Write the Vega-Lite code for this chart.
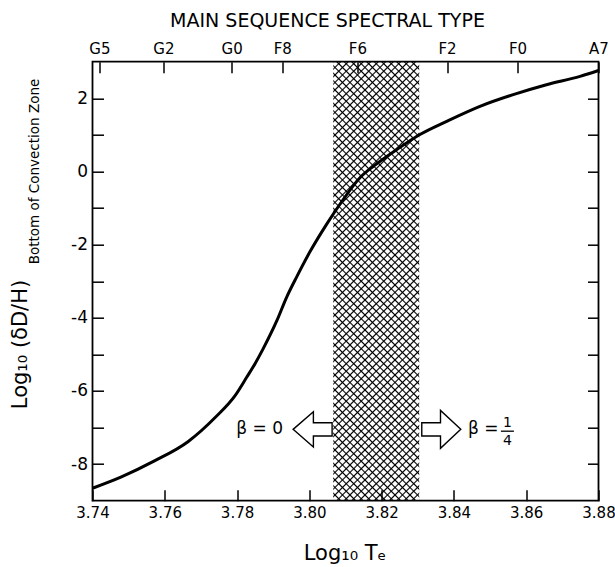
{
"$schema":"https://vega.github.io/schema/vega-lite/v6.json",
"width":506,"height":439,
"autosize":{"type":"none"},
"padding":{"left":92.5,"top":61.7,"right":16.5,"bottom":66.3},
"config":{"font":"DejaVu Sans","view":{"stroke":"black","strokeWidth":1.8},
"axis":{"grid":false,"domain":false,"tickColor":"black","labelColor":"black","titleColor":"black","tickWidth":1.5,"titleFontWeight":"normal","zindex":1,"labelFlush":false,"labelOverlap":false}},
"datasets":{
"curve":[{"t":3.74,"d":-8.66},{"t":3.748,"d":-8.35},{"t":3.757,"d":-7.92},{"t":3.7665,"d":-7.38},{"t":3.774,"d":-6.72},{"t":3.7795,"d":-6.12},{"t":3.7827,"d":-5.62},{"t":3.785,"d":-5.25},{"t":3.7872,"d":-4.85},{"t":3.791,"d":-4.08},{"t":3.7937,"d":-3.44},{"t":3.7965,"d":-2.88},{"t":3.8002,"d":-2.19},{"t":3.8048,"d":-1.44},{"t":3.8085,"d":-0.89},{"t":3.814,"d":-0.17},{"t":3.8177,"d":0.14},{"t":3.8242,"d":0.6},{"t":3.8306,"d":1.01},{"t":3.838,"d":1.37},{"t":3.8472,"d":1.78},{"t":3.8564,"d":2.1},{"t":3.8656,"d":2.37},{"t":3.8749,"d":2.6},{"t":3.88,"d":2.76}],
"band":[{"lo":3.8066,"hi":3.8304,"top":3,"bottom":-9}],
"arrows":[{"t":3.8009,"d":-7.05,"dir":"left"},{"t":3.8365,"d":-7.05,"dir":"right"}],
"beta0":[{"t":3.7927,"d":-7.05,"label":"β = 0"}],
"beta1":[{"t":3.8439,"d":-7.05,"label":"β ="}],
"frac":[{"t":3.8548,"d":-6.88,"label":"1"},{"t":3.8548,"d":-7.36,"label":"4"}],
"bar":[{"t":3.853,"t2":3.8566,"d":-7.1}]
},
"resolve":{"axis":{"x":"independent","y":"independent"}},
"layer":[
{"data":{"name":"band"},
"mark":{"type":"rect","fill":{"gradient":"linear","x1":0,"y1":0,"x2":0.2256,"y2":1.1517,"stops":[
{"offset":0,"color":"#000"},{"offset":0.003,"color":"transparent"},
{"offset":0.0113,"color":"transparent"},{"offset":0.0143,"color":"#000"},{"offset":0.0173,"color":"transparent"},
{"offset":0.0256,"color":"transparent"},{"offset":0.0286,"color":"#000"},{"offset":0.0316,"color":"transparent"},
{"offset":0.0399,"color":"transparent"},{"offset":0.0429,"color":"#000"},{"offset":0.0459,"color":"transparent"},
{"offset":0.0541,"color":"transparent"},{"offset":0.0571,"color":"#000"},{"offset":0.0601,"color":"transparent"},
{"offset":0.0684,"color":"transparent"},{"offset":0.0714,"color":"#000"},{"offset":0.0744,"color":"transparent"},
{"offset":0.0827,"color":"transparent"},{"offset":0.0857,"color":"#000"},{"offset":0.0887,"color":"transparent"},
{"offset":0.097,"color":"transparent"},{"offset":0.1,"color":"#000"},{"offset":0.103,"color":"transparent"},
{"offset":0.1113,"color":"transparent"},{"offset":0.1143,"color":"#000"},{"offset":0.1173,"color":"transparent"},
{"offset":0.1256,"color":"transparent"},{"offset":0.1286,"color":"#000"},{"offset":0.1316,"color":"transparent"},
{"offset":0.1399,"color":"transparent"},{"offset":0.1429,"color":"#000"},{"offset":0.1459,"color":"transparent"},
{"offset":0.1541,"color":"transparent"},{"offset":0.1571,"color":"#000"},{"offset":0.1601,"color":"transparent"},
{"offset":0.1684,"color":"transparent"},{"offset":0.1714,"color":"#000"},{"offset":0.1744,"color":"transparent"},
{"offset":0.1827,"color":"transparent"},{"offset":0.1857,"color":"#000"},{"offset":0.1887,"color":"transparent"},
{"offset":0.197,"color":"transparent"},{"offset":0.2,"color":"#000"},{"offset":0.203,"color":"transparent"},
{"offset":0.2113,"color":"transparent"},{"offset":0.2143,"color":"#000"},{"offset":0.2173,"color":"transparent"},
{"offset":0.2256,"color":"transparent"},{"offset":0.2286,"color":"#000"},{"offset":0.2316,"color":"transparent"},
{"offset":0.2399,"color":"transparent"},{"offset":0.2429,"color":"#000"},{"offset":0.2459,"color":"transparent"},
{"offset":0.2541,"color":"transparent"},{"offset":0.2571,"color":"#000"},{"offset":0.2601,"color":"transparent"},
{"offset":0.2684,"color":"transparent"},{"offset":0.2714,"color":"#000"},{"offset":0.2744,"color":"transparent"},
{"offset":0.2827,"color":"transparent"},{"offset":0.2857,"color":"#000"},{"offset":0.2887,"color":"transparent"},
{"offset":0.297,"color":"transparent"},{"offset":0.3,"color":"#000"},{"offset":0.303,"color":"transparent"},
{"offset":0.3113,"color":"transparent"},{"offset":0.3143,"color":"#000"},{"offset":0.3173,"color":"transparent"},
{"offset":0.3256,"color":"transparent"},{"offset":0.3286,"color":"#000"},{"offset":0.3316,"color":"transparent"},
{"offset":0.3399,"color":"transparent"},{"offset":0.3429,"color":"#000"},{"offset":0.3459,"color":"transparent"},
{"offset":0.3541,"color":"transparent"},{"offset":0.3571,"color":"#000"},{"offset":0.3601,"color":"transparent"},
{"offset":0.3684,"color":"transparent"},{"offset":0.3714,"color":"#000"},{"offset":0.3744,"color":"transparent"},
{"offset":0.3827,"color":"transparent"},{"offset":0.3857,"color":"#000"},{"offset":0.3887,"color":"transparent"},
{"offset":0.397,"color":"transparent"},{"offset":0.4,"color":"#000"},{"offset":0.403,"color":"transparent"},
{"offset":0.4113,"color":"transparent"},{"offset":0.4143,"color":"#000"},{"offset":0.4173,"color":"transparent"},
{"offset":0.4256,"color":"transparent"},{"offset":0.4286,"color":"#000"},{"offset":0.4316,"color":"transparent"},
{"offset":0.4399,"color":"transparent"},{"offset":0.4429,"color":"#000"},{"offset":0.4459,"color":"transparent"},
{"offset":0.4541,"color":"transparent"},{"offset":0.4571,"color":"#000"},{"offset":0.4601,"color":"transparent"},
{"offset":0.4684,"color":"transparent"},{"offset":0.4714,"color":"#000"},{"offset":0.4744,"color":"transparent"},
{"offset":0.4827,"color":"transparent"},{"offset":0.4857,"color":"#000"},{"offset":0.4887,"color":"transparent"},
{"offset":0.497,"color":"transparent"},{"offset":0.5,"color":"#000"},{"offset":0.503,"color":"transparent"},
{"offset":0.5113,"color":"transparent"},{"offset":0.5143,"color":"#000"},{"offset":0.5173,"color":"transparent"},
{"offset":0.5256,"color":"transparent"},{"offset":0.5286,"color":"#000"},{"offset":0.5316,"color":"transparent"},
{"offset":0.5399,"color":"transparent"},{"offset":0.5429,"color":"#000"},{"offset":0.5459,"color":"transparent"},
{"offset":0.5541,"color":"transparent"},{"offset":0.5571,"color":"#000"},{"offset":0.5601,"color":"transparent"},
{"offset":0.5684,"color":"transparent"},{"offset":0.5714,"color":"#000"},{"offset":0.5744,"color":"transparent"},
{"offset":0.5827,"color":"transparent"},{"offset":0.5857,"color":"#000"},{"offset":0.5887,"color":"transparent"},
{"offset":0.597,"color":"transparent"},{"offset":0.6,"color":"#000"},{"offset":0.603,"color":"transparent"},
{"offset":0.6113,"color":"transparent"},{"offset":0.6143,"color":"#000"},{"offset":0.6173,"color":"transparent"},
{"offset":0.6256,"color":"transparent"},{"offset":0.6286,"color":"#000"},{"offset":0.6316,"color":"transparent"},
{"offset":0.6399,"color":"transparent"},{"offset":0.6429,"color":"#000"},{"offset":0.6459,"color":"transparent"},
{"offset":0.6541,"color":"transparent"},{"offset":0.6571,"color":"#000"},{"offset":0.6601,"color":"transparent"},
{"offset":0.6684,"color":"transparent"},{"offset":0.6714,"color":"#000"},{"offset":0.6744,"color":"transparent"},
{"offset":0.6827,"color":"transparent"},{"offset":0.6857,"color":"#000"},{"offset":0.6887,"color":"transparent"},
{"offset":0.697,"color":"transparent"},{"offset":0.7,"color":"#000"},{"offset":0.703,"color":"transparent"},
{"offset":0.7113,"color":"transparent"},{"offset":0.7143,"color":"#000"},{"offset":0.7173,"color":"transparent"},
{"offset":0.7256,"color":"transparent"},{"offset":0.7286,"color":"#000"},{"offset":0.7316,"color":"transparent"},
{"offset":0.7399,"color":"transparent"},{"offset":0.7429,"color":"#000"},{"offset":0.7459,"color":"transparent"},
{"offset":0.7541,"color":"transparent"},{"offset":0.7571,"color":"#000"},{"offset":0.7601,"color":"transparent"},
{"offset":0.7684,"color":"transparent"},{"offset":0.7714,"color":"#000"},{"offset":0.7744,"color":"transparent"},
{"offset":0.7827,"color":"transparent"},{"offset":0.7857,"color":"#000"},{"offset":0.7887,"color":"transparent"},
{"offset":0.797,"color":"transparent"},{"offset":0.8,"color":"#000"},{"offset":0.803,"color":"transparent"},
{"offset":0.8113,"color":"transparent"},{"offset":0.8143,"color":"#000"},{"offset":0.8173,"color":"transparent"},
{"offset":0.8256,"color":"transparent"},{"offset":0.8286,"color":"#000"},{"offset":0.8316,"color":"transparent"},
{"offset":0.8399,"color":"transparent"},{"offset":0.8429,"color":"#000"},{"offset":0.8459,"color":"transparent"},
{"offset":0.8541,"color":"transparent"},{"offset":0.8571,"color":"#000"},{"offset":0.8601,"color":"transparent"},
{"offset":0.8684,"color":"transparent"},{"offset":0.8714,"color":"#000"},{"offset":0.8744,"color":"transparent"},
{"offset":0.8827,"color":"transparent"},{"offset":0.8857,"color":"#000"},{"offset":0.8887,"color":"transparent"},
{"offset":0.897,"color":"transparent"},{"offset":0.9,"color":"#000"},{"offset":0.903,"color":"transparent"},
{"offset":0.9113,"color":"transparent"},{"offset":0.9143,"color":"#000"},{"offset":0.9173,"color":"transparent"},
{"offset":0.9256,"color":"transparent"},{"offset":0.9286,"color":"#000"},{"offset":0.9316,"color":"transparent"},
{"offset":0.9399,"color":"transparent"},{"offset":0.9429,"color":"#000"},{"offset":0.9459,"color":"transparent"},
{"offset":0.9541,"color":"transparent"},{"offset":0.9571,"color":"#000"},{"offset":0.9601,"color":"transparent"},
{"offset":0.9684,"color":"transparent"},{"offset":0.9714,"color":"#000"},{"offset":0.9744,"color":"transparent"},
{"offset":0.9827,"color":"transparent"},{"offset":0.9857,"color":"#000"},{"offset":0.9887,"color":"transparent"},
{"offset":0.997,"color":"transparent"},{"offset":1,"color":"#000"}]}},
"encoding":{
"x":{"field":"lo","type":"quantitative","scale":{"domain":[3.74,3.88],"nice":false,"zero":false},
"axis":{"orient":"top","values":[3.7419,3.7596,3.7785,3.7925,3.8133,3.8381,3.8576,3.88],
"labelExpr":"datum.value < 3.75 ? 'G5' : datum.value < 3.77 ? 'G2' : datum.value < 3.785 ? 'G0' : datum.value < 3.80 ? 'F8' : datum.value < 3.825 ? 'F6' : datum.value < 3.85 ? 'F2' : datum.value < 3.87 ? 'F0' : 'A7'",
"tickSize":-11,"labelPadding":16,"labelFontSize":15,
"title":"MAIN SEQUENCE SPECTRAL TYPE","titleFontSize":19,"titleX":234.5,"titleY":-35,"titleBaseline":"alphabetic","titleAlign":"center","titleAngle":0}},
"x2":{"field":"hi"},
"y":{"field":"top","type":"quantitative","scale":{"domain":[-9,3],"nice":false,"zero":false},
"axis":{"orient":"right","values":[-8,-7,-6,-5,-4,-3,-2,-1,0,1,2],"labels":false,"tickSize":-11,
"title":"Bottom of Convection Zone","titleFontSize":13.5,"titleAngle":270,"titleX":-560.2,"titleY":109.3,"titleBaseline":"alphabetic","titleAlign":"center"}},
"y2":{"field":"bottom"}}},
{"data":{"name":"band"},
"mark":{"type":"rect","fill":{"gradient":"linear","x1":1,"y1":0,"x2":0.7744,"y2":1.1517,"stops":[
{"offset":0,"color":"#000"},{"offset":0.003,"color":"transparent"},
{"offset":0.0113,"color":"transparent"},{"offset":0.0143,"color":"#000"},{"offset":0.0173,"color":"transparent"},
{"offset":0.0256,"color":"transparent"},{"offset":0.0286,"color":"#000"},{"offset":0.0316,"color":"transparent"},
{"offset":0.0399,"color":"transparent"},{"offset":0.0429,"color":"#000"},{"offset":0.0459,"color":"transparent"},
{"offset":0.0541,"color":"transparent"},{"offset":0.0571,"color":"#000"},{"offset":0.0601,"color":"transparent"},
{"offset":0.0684,"color":"transparent"},{"offset":0.0714,"color":"#000"},{"offset":0.0744,"color":"transparent"},
{"offset":0.0827,"color":"transparent"},{"offset":0.0857,"color":"#000"},{"offset":0.0887,"color":"transparent"},
{"offset":0.097,"color":"transparent"},{"offset":0.1,"color":"#000"},{"offset":0.103,"color":"transparent"},
{"offset":0.1113,"color":"transparent"},{"offset":0.1143,"color":"#000"},{"offset":0.1173,"color":"transparent"},
{"offset":0.1256,"color":"transparent"},{"offset":0.1286,"color":"#000"},{"offset":0.1316,"color":"transparent"},
{"offset":0.1399,"color":"transparent"},{"offset":0.1429,"color":"#000"},{"offset":0.1459,"color":"transparent"},
{"offset":0.1541,"color":"transparent"},{"offset":0.1571,"color":"#000"},{"offset":0.1601,"color":"transparent"},
{"offset":0.1684,"color":"transparent"},{"offset":0.1714,"color":"#000"},{"offset":0.1744,"color":"transparent"},
{"offset":0.1827,"color":"transparent"},{"offset":0.1857,"color":"#000"},{"offset":0.1887,"color":"transparent"},
{"offset":0.197,"color":"transparent"},{"offset":0.2,"color":"#000"},{"offset":0.203,"color":"transparent"},
{"offset":0.2113,"color":"transparent"},{"offset":0.2143,"color":"#000"},{"offset":0.2173,"color":"transparent"},
{"offset":0.2256,"color":"transparent"},{"offset":0.2286,"color":"#000"},{"offset":0.2316,"color":"transparent"},
{"offset":0.2399,"color":"transparent"},{"offset":0.2429,"color":"#000"},{"offset":0.2459,"color":"transparent"},
{"offset":0.2541,"color":"transparent"},{"offset":0.2571,"color":"#000"},{"offset":0.2601,"color":"transparent"},
{"offset":0.2684,"color":"transparent"},{"offset":0.2714,"color":"#000"},{"offset":0.2744,"color":"transparent"},
{"offset":0.2827,"color":"transparent"},{"offset":0.2857,"color":"#000"},{"offset":0.2887,"color":"transparent"},
{"offset":0.297,"color":"transparent"},{"offset":0.3,"color":"#000"},{"offset":0.303,"color":"transparent"},
{"offset":0.3113,"color":"transparent"},{"offset":0.3143,"color":"#000"},{"offset":0.3173,"color":"transparent"},
{"offset":0.3256,"color":"transparent"},{"offset":0.3286,"color":"#000"},{"offset":0.3316,"color":"transparent"},
{"offset":0.3399,"color":"transparent"},{"offset":0.3429,"color":"#000"},{"offset":0.3459,"color":"transparent"},
{"offset":0.3541,"color":"transparent"},{"offset":0.3571,"color":"#000"},{"offset":0.3601,"color":"transparent"},
{"offset":0.3684,"color":"transparent"},{"offset":0.3714,"color":"#000"},{"offset":0.3744,"color":"transparent"},
{"offset":0.3827,"color":"transparent"},{"offset":0.3857,"color":"#000"},{"offset":0.3887,"color":"transparent"},
{"offset":0.397,"color":"transparent"},{"offset":0.4,"color":"#000"},{"offset":0.403,"color":"transparent"},
{"offset":0.4113,"color":"transparent"},{"offset":0.4143,"color":"#000"},{"offset":0.4173,"color":"transparent"},
{"offset":0.4256,"color":"transparent"},{"offset":0.4286,"color":"#000"},{"offset":0.4316,"color":"transparent"},
{"offset":0.4399,"color":"transparent"},{"offset":0.4429,"color":"#000"},{"offset":0.4459,"color":"transparent"},
{"offset":0.4541,"color":"transparent"},{"offset":0.4571,"color":"#000"},{"offset":0.4601,"color":"transparent"},
{"offset":0.4684,"color":"transparent"},{"offset":0.4714,"color":"#000"},{"offset":0.4744,"color":"transparent"},
{"offset":0.4827,"color":"transparent"},{"offset":0.4857,"color":"#000"},{"offset":0.4887,"color":"transparent"},
{"offset":0.497,"color":"transparent"},{"offset":0.5,"color":"#000"},{"offset":0.503,"color":"transparent"},
{"offset":0.5113,"color":"transparent"},{"offset":0.5143,"color":"#000"},{"offset":0.5173,"color":"transparent"},
{"offset":0.5256,"color":"transparent"},{"offset":0.5286,"color":"#000"},{"offset":0.5316,"color":"transparent"},
{"offset":0.5399,"color":"transparent"},{"offset":0.5429,"color":"#000"},{"offset":0.5459,"color":"transparent"},
{"offset":0.5541,"color":"transparent"},{"offset":0.5571,"color":"#000"},{"offset":0.5601,"color":"transparent"},
{"offset":0.5684,"color":"transparent"},{"offset":0.5714,"color":"#000"},{"offset":0.5744,"color":"transparent"},
{"offset":0.5827,"color":"transparent"},{"offset":0.5857,"color":"#000"},{"offset":0.5887,"color":"transparent"},
{"offset":0.597,"color":"transparent"},{"offset":0.6,"color":"#000"},{"offset":0.603,"color":"transparent"},
{"offset":0.6113,"color":"transparent"},{"offset":0.6143,"color":"#000"},{"offset":0.6173,"color":"transparent"},
{"offset":0.6256,"color":"transparent"},{"offset":0.6286,"color":"#000"},{"offset":0.6316,"color":"transparent"},
{"offset":0.6399,"color":"transparent"},{"offset":0.6429,"color":"#000"},{"offset":0.6459,"color":"transparent"},
{"offset":0.6541,"color":"transparent"},{"offset":0.6571,"color":"#000"},{"offset":0.6601,"color":"transparent"},
{"offset":0.6684,"color":"transparent"},{"offset":0.6714,"color":"#000"},{"offset":0.6744,"color":"transparent"},
{"offset":0.6827,"color":"transparent"},{"offset":0.6857,"color":"#000"},{"offset":0.6887,"color":"transparent"},
{"offset":0.697,"color":"transparent"},{"offset":0.7,"color":"#000"},{"offset":0.703,"color":"transparent"},
{"offset":0.7113,"color":"transparent"},{"offset":0.7143,"color":"#000"},{"offset":0.7173,"color":"transparent"},
{"offset":0.7256,"color":"transparent"},{"offset":0.7286,"color":"#000"},{"offset":0.7316,"color":"transparent"},
{"offset":0.7399,"color":"transparent"},{"offset":0.7429,"color":"#000"},{"offset":0.7459,"color":"transparent"},
{"offset":0.7541,"color":"transparent"},{"offset":0.7571,"color":"#000"},{"offset":0.7601,"color":"transparent"},
{"offset":0.7684,"color":"transparent"},{"offset":0.7714,"color":"#000"},{"offset":0.7744,"color":"transparent"},
{"offset":0.7827,"color":"transparent"},{"offset":0.7857,"color":"#000"},{"offset":0.7887,"color":"transparent"},
{"offset":0.797,"color":"transparent"},{"offset":0.8,"color":"#000"},{"offset":0.803,"color":"transparent"},
{"offset":0.8113,"color":"transparent"},{"offset":0.8143,"color":"#000"},{"offset":0.8173,"color":"transparent"},
{"offset":0.8256,"color":"transparent"},{"offset":0.8286,"color":"#000"},{"offset":0.8316,"color":"transparent"},
{"offset":0.8399,"color":"transparent"},{"offset":0.8429,"color":"#000"},{"offset":0.8459,"color":"transparent"},
{"offset":0.8541,"color":"transparent"},{"offset":0.8571,"color":"#000"},{"offset":0.8601,"color":"transparent"},
{"offset":0.8684,"color":"transparent"},{"offset":0.8714,"color":"#000"},{"offset":0.8744,"color":"transparent"},
{"offset":0.8827,"color":"transparent"},{"offset":0.8857,"color":"#000"},{"offset":0.8887,"color":"transparent"},
{"offset":0.897,"color":"transparent"},{"offset":0.9,"color":"#000"},{"offset":0.903,"color":"transparent"},
{"offset":0.9113,"color":"transparent"},{"offset":0.9143,"color":"#000"},{"offset":0.9173,"color":"transparent"},
{"offset":0.9256,"color":"transparent"},{"offset":0.9286,"color":"#000"},{"offset":0.9316,"color":"transparent"},
{"offset":0.9399,"color":"transparent"},{"offset":0.9429,"color":"#000"},{"offset":0.9459,"color":"transparent"},
{"offset":0.9541,"color":"transparent"},{"offset":0.9571,"color":"#000"},{"offset":0.9601,"color":"transparent"},
{"offset":0.9684,"color":"transparent"},{"offset":0.9714,"color":"#000"},{"offset":0.9744,"color":"transparent"},
{"offset":0.9827,"color":"transparent"},{"offset":0.9857,"color":"#000"},{"offset":0.9887,"color":"transparent"},
{"offset":0.997,"color":"transparent"},{"offset":1,"color":"#000"}]}},
"encoding":{
"x":{"field":"lo","type":"quantitative","scale":{"domain":[3.74,3.88],"nice":false,"zero":false},"axis":null},
"x2":{"field":"hi"},
"y":{"field":"top","type":"quantitative","scale":{"domain":[-9,3],"nice":false,"zero":false},"axis":null},
"y2":{"field":"bottom"}}},
{"data":{"name":"curve"},
"mark":{"type":"line","color":"black","strokeWidth":3,"interpolate":"monotone"},
"encoding":{
"x":{"field":"t","type":"quantitative","scale":{"domain":[3.74,3.88],"nice":false,"zero":false},
"axis":{"orient":"bottom","values":[3.74,3.76,3.78,3.8,3.82,3.84,3.86,3.88],"format":".2f","tickSize":-11,"labelPadding":16,"labelFontSize":15,
"title":"Log₁₀ Tₑ","titleFontSize":21,"titleX":252,"titleY":59,"titleBaseline":"alphabetic","titleAlign":"center"}},
"y":{"field":"d","type":"quantitative","scale":{"domain":[-9,3],"nice":false,"zero":false},
"axis":{"orient":"left","values":[-8,-7,-6,-5,-4,-3,-2,-1,0,1,2],"labelExpr":"datum.value % 2 === 0 ? '' + datum.value : ''","tickSize":-11,"labelPadding":16,"labelFontSize":17,
"title":"Log₁₀ (δD/H)","titleFontSize":21,"titleAngle":270,"titleX":-65.8,"titleY":282.3,"titleBaseline":"alphabetic","titleAlign":"center"}}}},
{"data":{"name":"arrows"},
"mark":{"type":"point","filled":true,"fill":"white","stroke":"black","strokeWidth":1.4,"opacity":1,"size":1521},
"encoding":{
"x":{"field":"t","type":"quantitative","scale":{"domain":[3.74,3.88],"nice":false,"zero":false},"axis":null},
"y":{"field":"d","type":"quantitative","scale":{"domain":[-9,3],"nice":false,"zero":false},"axis":null},
"shape":{"field":"dir","type":"nominal","legend":null,"scale":{"domain":["left","right"],"range":["M-1,0L0.04,-0.9L0.04,-0.34L1,-0.34L1,0.34L0.04,0.34L0.04,0.9Z","M1,0L-0.04,-0.97L-0.04,-0.34L-1,-0.34L-1,0.34L-0.04,0.34L-0.04,0.97Z"]}}}},
{"data":{"name":"beta0"},
"mark":{"type":"text","align":"right","baseline":"middle","fontSize":17,"color":"black"},
"encoding":{
"x":{"field":"t","type":"quantitative","scale":{"domain":[3.74,3.88],"nice":false,"zero":false},"axis":null},
"y":{"field":"d","type":"quantitative","scale":{"domain":[-9,3],"nice":false,"zero":false},"axis":null},
"text":{"field":"label"}}},
{"data":{"name":"beta1"},
"mark":{"type":"text","align":"left","baseline":"middle","fontSize":17,"color":"black"},
"encoding":{
"x":{"field":"t","type":"quantitative","scale":{"domain":[3.74,3.88],"nice":false,"zero":false},"axis":null},
"y":{"field":"d","type":"quantitative","scale":{"domain":[-9,3],"nice":false,"zero":false},"axis":null},
"text":{"field":"label"}}},
{"data":{"name":"frac"},
"mark":{"type":"text","align":"center","baseline":"middle","fontSize":14,"color":"black"},
"encoding":{
"x":{"field":"t","type":"quantitative","scale":{"domain":[3.74,3.88],"nice":false,"zero":false},"axis":null},
"y":{"field":"d","type":"quantitative","scale":{"domain":[-9,3],"nice":false,"zero":false},"axis":null},
"text":{"field":"label"}}},
{"data":{"name":"bar"},
"mark":{"type":"rule","color":"black","strokeWidth":1.3},
"encoding":{
"x":{"field":"t","type":"quantitative","scale":{"domain":[3.74,3.88],"nice":false,"zero":false},"axis":null},
"x2":{"field":"t2"},
"y":{"field":"d","type":"quantitative","scale":{"domain":[-9,3],"nice":false,"zero":false},"axis":null}}}
]
}
